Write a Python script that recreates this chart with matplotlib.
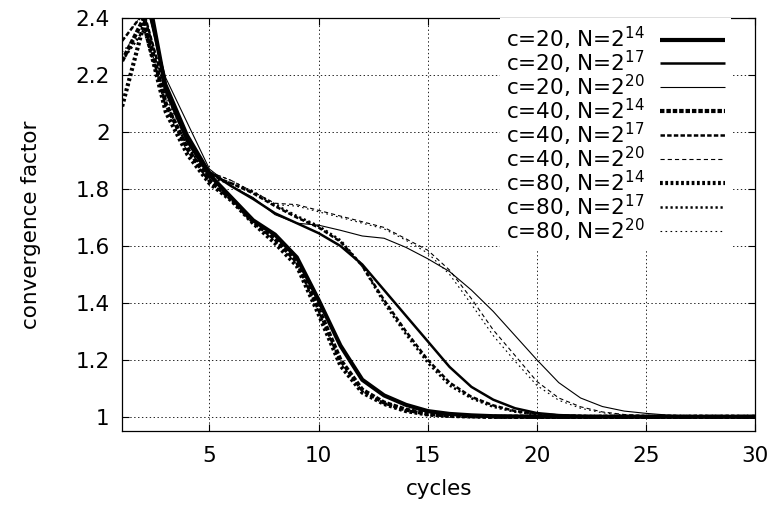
import numpy as np
import matplotlib
matplotlib.use("Agg")
import matplotlib.pyplot as plt

plt.rcParams['font.family'] = ['DejaVu Sans']
plt.rcParams['mathtext.fontset'] = 'dejavusans'
plt.rcParams['lines.scale_dashes'] = False

cycles = list(range(1, 31))

# values, x = 1..30
c20_n14 = [2.50, 2.56, 2.15, 1.97, 1.85, 1.77, 1.69, 1.64, 1.56, 1.41, 1.25, 1.13, 1.075, 1.042,
           1.02, 1.01, 1.005, 1.002, 1.001, 1.0, 1.0, 1.0, 1.0, 1.0, 1.0, 1.0, 1.0, 1.0, 1.0, 1.0]
c20_n17 = [2.45, 2.50, 2.17, 1.99, 1.86, 1.81, 1.765, 1.715, 1.68, 1.645, 1.60, 1.535, 1.445, 1.355,
           1.265, 1.175, 1.105, 1.06, 1.03, 1.013, 1.006, 1.003, 1.001, 1.0, 1.0, 1.0, 1.0, 1.0, 1.0, 1.0]
c20_n20 = [2.45, 2.48, 2.19, 2.03, 1.87, 1.81, 1.77, 1.71, 1.68, 1.673, 1.655, 1.635, 1.627, 1.595,
           1.555, 1.51, 1.445, 1.37, 1.285, 1.20, 1.12, 1.066, 1.036, 1.02, 1.012, 1.006, 1.003, 1.001, 1.0, 1.0]
c40_n14 = [2.25, 2.40, 2.10, 1.94, 1.83, 1.765, 1.685, 1.625, 1.545, 1.38, 1.20, 1.095, 1.05, 1.025,
           1.01, 1.004, 1.002, 1.0, 1.0, 1.0, 1.0, 1.0, 1.0, 1.0, 1.0, 1.0, 1.0, 1.0, 1.0, 1.0]
c40_n17 = [2.32, 2.42, 2.14, 1.97, 1.85, 1.82, 1.785, 1.74, 1.70, 1.665, 1.615, 1.53, 1.41, 1.30,
           1.20, 1.12, 1.07, 1.04, 1.02, 1.01, 1.005, 1.002, 1.0, 1.0, 1.0, 1.0, 1.0, 1.0, 1.0, 1.0]
c40_n20 = [2.32, 2.42, 2.15, 1.98, 1.86, 1.83, 1.79, 1.75, 1.745, 1.725, 1.705, 1.685, 1.665, 1.625,
           1.585, 1.515, 1.415, 1.305, 1.215, 1.124, 1.066, 1.035, 1.017, 1.008, 1.004, 1.002, 1.0, 1.0, 1.0, 1.0]
c80_n14 = [2.09, 2.38, 2.07, 1.92, 1.82, 1.76, 1.68, 1.61, 1.53, 1.36, 1.18, 1.085, 1.045, 1.02,
           1.008, 1.003, 1.001, 1.0, 1.0, 1.0, 1.0, 1.0, 1.0, 1.0, 1.0, 1.0, 1.0, 1.0, 1.0, 1.0]
c80_n17 = [2.25, 2.36, 2.10, 1.95, 1.84, 1.82, 1.79, 1.745, 1.705, 1.67, 1.62, 1.53, 1.40, 1.29,
           1.19, 1.11, 1.065, 1.035, 1.018, 1.008, 1.004, 1.002, 1.0, 1.0, 1.0, 1.0, 1.0, 1.0, 1.0, 1.0]
c80_n20 = [2.28, 2.37, 2.12, 1.97, 1.86, 1.83, 1.79, 1.745, 1.74, 1.72, 1.70, 1.68, 1.66, 1.62,
           1.575, 1.50, 1.395, 1.285, 1.195, 1.11, 1.058, 1.03, 1.014, 1.006, 1.003, 1.001, 1.0, 1.0, 1.0, 1.0]

series = [
    (c20_n14, r"c=20, N=2$^{14}$", 3.0, "-"),
    (c20_n17, r"c=20, N=2$^{17}$", 1.8, "-"),
    (c20_n20, r"c=20, N=2$^{20}$", 0.8, "-"),
    (c40_n14, r"c=40, N=2$^{14}$", 3.0, (0, (3.2, 1.4))),
    (c40_n17, r"c=40, N=2$^{17}$", 1.8, (0, (3.2, 1.6))),
    (c40_n20, r"c=40, N=2$^{20}$", 0.8, (0, (3.0, 2.2))),
    (c80_n14, r"c=80, N=2$^{14}$", 3.0, (0, (2.0, 1.8))),
    (c80_n17, r"c=80, N=2$^{17}$", 1.8, (0, (1.6, 2.0))),
    (c80_n20, r"c=80, N=2$^{20}$", 0.8, (0, (1.2, 2.4))),
]

fig = plt.figure(figsize=(7.73, 5.05), dpi=100)
ax = fig.add_axes([0.158, 0.1465, 0.819, 0.8175])

for ys, lab, lw, ls in series:
    ax.plot(cycles, ys, color="black", lw=lw, linestyle=ls, label=lab,
            solid_capstyle="butt", dash_capstyle="butt")

ax.set_xlim(1, 30)
ax.set_ylim(0.95, 2.4)
ax.set_xticks([5, 10, 15, 20, 25, 30])
ax.set_yticks([1, 1.2, 1.4, 1.6, 1.8, 2.0, 2.2, 2.4])
ax.yaxis.set_major_formatter(matplotlib.ticker.FormatStrFormatter("%g"))
ax.tick_params(direction="in", top=True, right=True, labelsize=15.5, length=5)
ax.tick_params(axis="x", pad=11)
ax.tick_params(axis="y", pad=9)
ax.grid(True, color="black", linestyle=(0, (1, 1.8)), linewidth=0.6)
for s in ax.spines.values():
    s.set_linewidth(0.9)

ax.set_xlabel("cycles", fontsize=15.5, labelpad=9)
ax.set_ylabel("convergence factor", fontsize=15.5, labelpad=25)

leg = ax.legend(loc="upper right", markerfirst=False, frameon=True, fontsize=15.5,
                handlelength=3.0, labelspacing=-0.15, borderaxespad=0.0,
                handletextpad=0.7, borderpad=0.3, alignment="right",
                bbox_to_anchor=(0.962, 1.0))
leg.get_frame().set_edgecolor("none")
leg.get_frame().set_facecolor("white")
leg.get_frame().set_alpha(1)
leg.get_frame().set_boxstyle("square", pad=0)

fig.savefig("out.png", dpi=100)
